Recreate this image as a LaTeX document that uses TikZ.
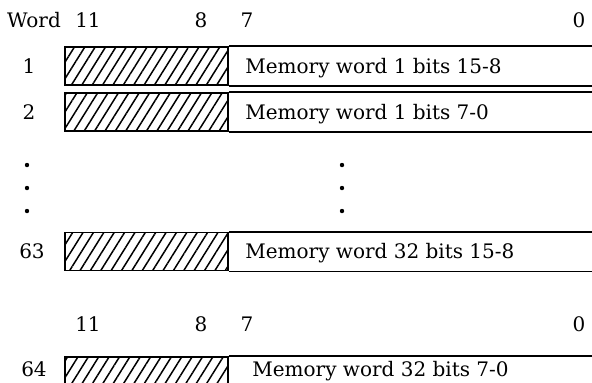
\documentclass[tikz,border=0pt]{standalone}
\usepackage{fontspec}
\setmainfont{DejaVu Serif}
\usepackage{tikz}
\usetikzlibrary{patterns.meta}

\begin{document}
\begin{tikzpicture}[x=0.5pt,y=-0.5pt]
\tikzset{
  hatchcell/.style={draw,line width=0.8pt,inner sep=0pt,minimum width=81.5pt,minimum height=19pt,
    pattern={Lines[angle=58,distance=4.4pt,line width=0.75pt]}},
  fieldtext/.style={anchor=west,inner sep=0pt,font=\fontsize{10}{12}\selectfont,text height=7.3pt,text depth=0pt},
  bitnum/.style={inner sep=0pt,font=\fontsize{10}{12}\selectfont,text height=7.3pt,text depth=0pt},
  rowline/.style={line width=0.8pt},
  dot/.style={circle,fill=black,inner sep=0pt,minimum size=2.2pt}
}
\useasboundingbox (0,0) rectangle (592,382);
\clip (0,0) rectangle (592,382);
\coordinate (edge) at (592,0);

% Cabecera de bits
\node (hw) at (34,20) [bitnum] {Word};
\node (h11) at (88,20) [bitnum] {11};
\node (h8) at (201,20) [bitnum] {8};
\node (h7) at (247,20) [bitnum] {7};
\node (h0) at (579,20) [bitnum] {0};
% Palabras
\node (r1) at (146.5,66) [hatchcell] {};
\node (r2) at (146.5,112) [hatchcell] {};
\node (r63) at (146.5,251.5) [hatchcell] {};
\node (r64) at (146.5,376) [hatchcell] {};
\node (n1) at (29,66) [bitnum] {1};
\node (n2) at (29,112) [bitnum] {2};
\node (n63) at (32,251) [bitnum] {63};
\node (n64) at (34,369) [bitnum] {64};
\node (t1) at (245,66) [fieldtext] {Memory word 1 bits 15-8};
\node (t2) at (245,112) [fieldtext] {Memory word 1 bits 7-0};
\node (t63) at (245,251.5) [fieldtext] {Memory word 32 bits 15-8};
\node (t64) at (252,369) [fieldtext] {Memory word 32 bits 7-0};
% Puntos suspensivos
\node (d1) at (27,165) [dot] {};
\node (d2) at (27,188) [dot] {};
\node (d3) at (27,211) [dot] {};
\node (d4) at (342,165) [dot] {};
\node (d5) at (342,188) [dot] {};
\node (d6) at (342,211) [dot] {};
% Cabecera inferior
\node (g11) at (88,324) [bitnum] {11};
\node (g8) at (201,324) [bitnum] {8};
\node (g7) at (247,324) [bitnum] {7};
\node (g0) at (579,324) [bitnum] {0};

\foreach \r in {r1,r2,r63,r64}{
  \draw[rowline] (\r.north east) -- (\r.north east -| edge);
  \draw[rowline] (\r.south east) -- (\r.south east -| edge);
}

\end{tikzpicture}
\end{document}
